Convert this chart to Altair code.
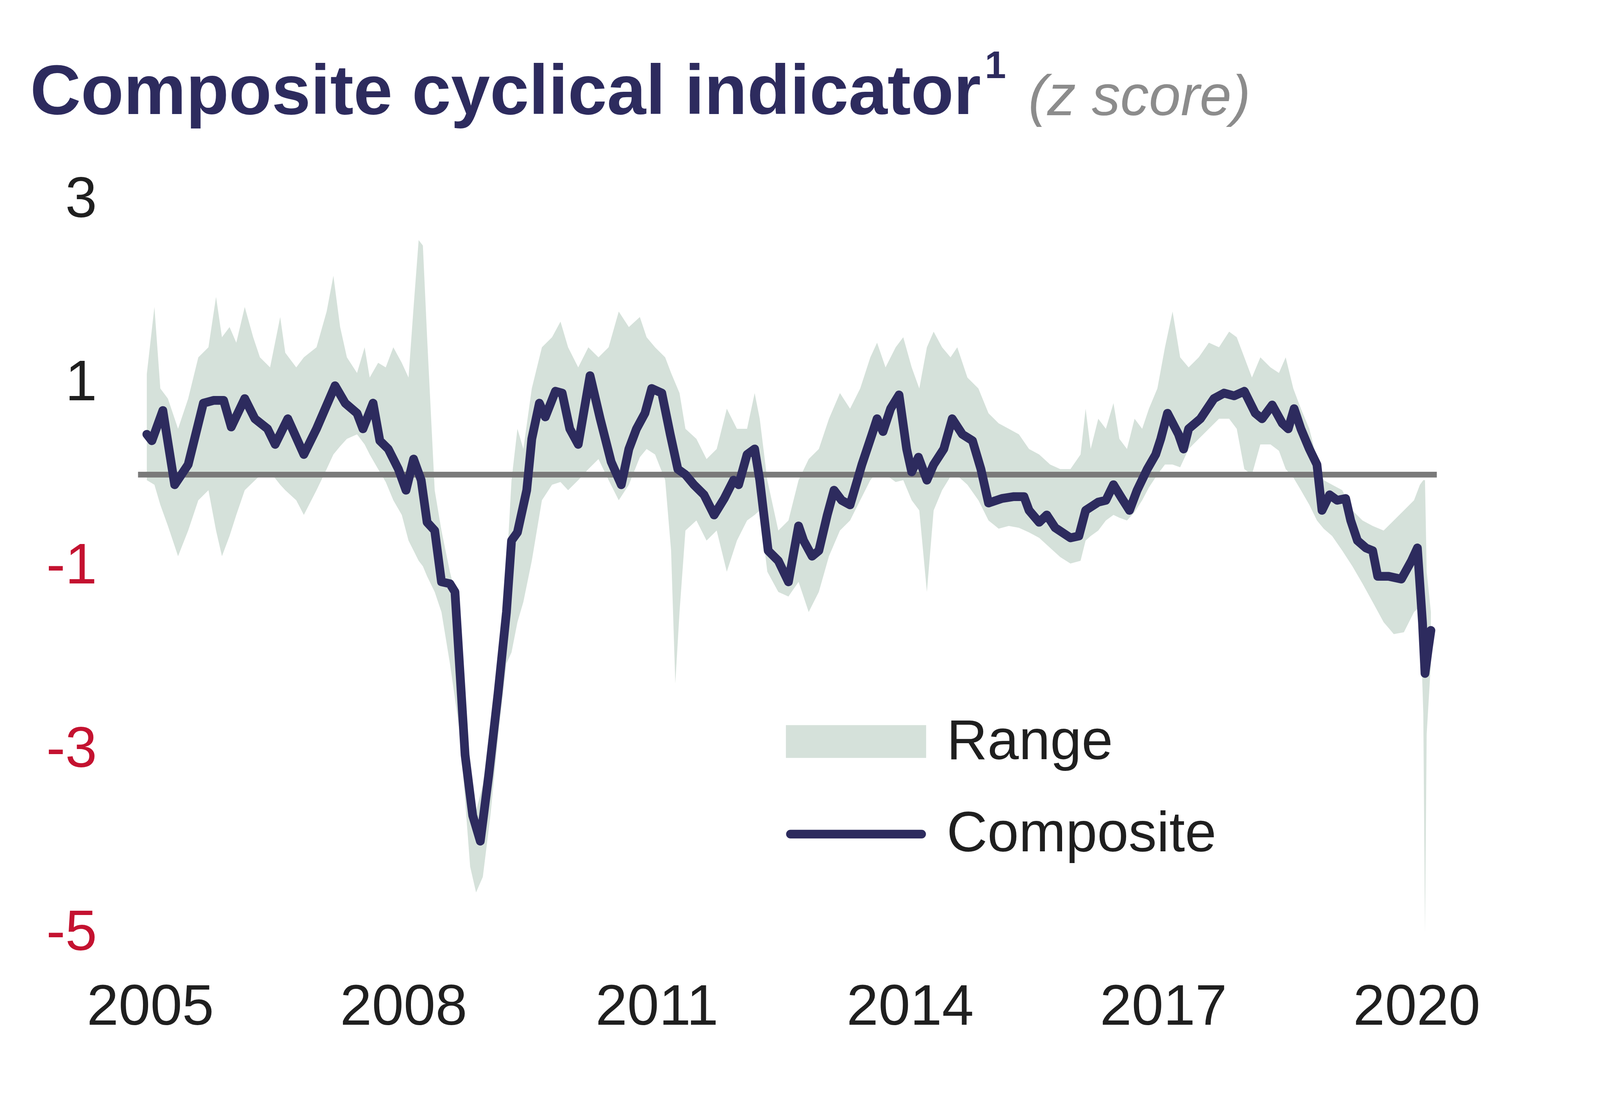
import altair as alt
import pandas as pd

# ---- data ----
comp_year = [2004.96, 2005.02, 2005.15, 2005.29, 2005.45, 2005.63, 2005.75, 2005.87, 2005.96, 2006.12,
             2006.24, 2006.39, 2006.48, 2006.63, 2006.82, 2006.97, 2007.19, 2007.31, 2007.45, 2007.52,
             2007.64, 2007.72, 2007.82, 2007.94, 2008.03, 2008.12, 2008.21, 2008.28, 2008.37, 2008.45,
             2008.55, 2008.61, 2008.67, 2008.73, 2008.82, 2008.91, 2009.01, 2009.12, 2009.22, 2009.28,
             2009.35, 2009.46, 2009.52, 2009.61, 2009.68, 2009.80, 2009.88, 2009.97, 2010.07, 2010.21,
             2010.33, 2010.46, 2010.58, 2010.67, 2010.76, 2010.86, 2010.94, 2011.06, 2011.16, 2011.25,
             2011.34, 2011.44, 2011.56, 2011.68, 2011.80, 2011.91, 2011.97, 2012.07, 2012.16, 2012.22,
             2012.32, 2012.44, 2012.56, 2012.68, 2012.74, 2012.84, 2012.92, 2013.02, 2013.10, 2013.19,
             2013.29, 2013.43, 2013.55, 2013.61, 2013.68, 2013.77, 2013.87, 2013.96, 2014.02, 2014.10,
             2014.20, 2014.28, 2014.40, 2014.50, 2014.62, 2014.74, 2014.84, 2014.93, 2015.09, 2015.23,
             2015.35, 2015.41, 2015.53, 2015.62, 2015.72, 2015.90, 2016.00, 2016.08, 2016.23, 2016.32,
             2016.41, 2016.51, 2016.60, 2016.69, 2016.81, 2016.91, 2016.97, 2017.05, 2017.18, 2017.24,
             2017.30, 2017.44, 2017.60, 2017.72, 2017.84, 2017.96, 2018.09, 2018.17, 2018.29, 2018.41,
             2018.48, 2018.55, 2018.63, 2018.73, 2018.82, 2018.88, 2018.97, 2019.06, 2019.16, 2019.22,
             2019.30, 2019.40, 2019.48, 2019.54, 2019.67, 2019.82, 2019.94, 2020.01, 2020.07, 2020.10,
             2020.14, 2020.17]
comp_value = [0.44, 0.37, 0.70, -0.11, 0.11, 0.78, 0.81, 0.81, 0.52, 0.83,
              0.61, 0.50, 0.33, 0.61, 0.22, 0.50, 0.97, 0.78, 0.67, 0.50,
              0.78, 0.37, 0.28, 0.06, -0.17, 0.17, -0.06, -0.52, -0.61, -1.17,
              -1.19, -1.28, -2.17, -3.06, -3.72, -4.00, -3.28, -2.39, -1.50, -0.72,
              -0.63, -0.17, 0.39, 0.78, 0.63, 0.91, 0.89, 0.50, 0.33, 1.08,
              0.61, 0.14, -0.11, 0.28, 0.50, 0.67, 0.94, 0.89, 0.44, 0.06,
              0.00, -0.11, -0.22, -0.44, -0.26, -0.06, -0.11, 0.22, 0.28, -0.06,
              -0.83, -0.94, -1.17, -0.56, -0.72, -0.89, -0.83, -0.44, -0.17, -0.28,
              -0.33, 0.11, 0.44, 0.61, 0.47, 0.72, 0.87, 0.28, 0.03, 0.19,
              -0.06, 0.11, 0.28, 0.61, 0.44, 0.37, 0.06, -0.31, -0.26, -0.24,
              -0.24, -0.39, -0.52, -0.44, -0.58, -0.69, -0.67, -0.39, -0.30, -0.28,
              -0.11, -0.26, -0.39, -0.17, 0.06, 0.22, 0.39, 0.67, 0.44, 0.28,
              0.50, 0.61, 0.83, 0.89, 0.86, 0.91, 0.67, 0.61, 0.76, 0.56,
              0.50, 0.72, 0.50, 0.28, 0.11, -0.39, -0.22, -0.28, -0.26, -0.50,
              -0.72, -0.80, -0.83, -1.11, -1.11, -1.14, -0.94, -0.80, -1.61, -2.17,
              -1.89, -1.70]

range_year = [2004.96, 2005.05, 2005.12, 2005.21, 2005.33, 2005.45, 2005.57, 2005.69, 2005.78, 2005.85,
              2005.94, 2006.02, 2006.12, 2006.22, 2006.30, 2006.42, 2006.54, 2006.60, 2006.73, 2006.82,
              2006.97, 2007.09, 2007.17, 2007.25, 2007.33, 2007.45, 2007.54, 2007.60, 2007.70, 2007.79,
              2007.88, 2007.98, 2008.06, 2008.12, 2008.18, 2008.23, 2008.28, 2008.37, 2008.45, 2008.55,
              2008.67, 2008.79, 2008.86, 2008.94, 2009.03, 2009.13, 2009.22, 2009.28, 2009.35, 2009.42,
              2009.52, 2009.64, 2009.76, 2009.86, 2009.95, 2010.07, 2010.19, 2010.31, 2010.43, 2010.55,
              2010.67, 2010.80, 2010.88, 2010.98, 2011.10, 2011.17, 2011.22, 2011.27, 2011.34, 2011.47,
              2011.59, 2011.71, 2011.83, 2011.95, 2012.07, 2012.16, 2012.22, 2012.31, 2012.44, 2012.56,
              2012.68, 2012.80, 2012.92, 2013.04, 2013.17, 2013.29, 2013.41, 2013.53, 2013.61, 2013.71,
              2013.83, 2013.92, 2014.02, 2014.11, 2014.20, 2014.28, 2014.38, 2014.48, 2014.56, 2014.68,
              2014.81, 2014.93, 2015.05, 2015.17, 2015.29, 2015.41, 2015.53, 2015.66, 2015.78, 2015.90,
              2016.02, 2016.08, 2016.14, 2016.23, 2016.32, 2016.41, 2016.48, 2016.57, 2016.66, 2016.75,
              2016.83, 2016.93, 2017.02, 2017.11, 2017.20, 2017.30, 2017.42, 2017.54, 2017.66, 2017.78,
              2017.87, 2017.96, 2018.05, 2018.15, 2018.27, 2018.37, 2018.45, 2018.54, 2018.63, 2018.73,
              2018.82, 2018.90, 2019.00, 2019.12, 2019.24, 2019.36, 2019.48, 2019.61, 2019.73, 2019.85,
              2019.97, 2020.04, 2020.08, 2020.10, 2020.12, 2020.17]
range_upper = [1.10, 1.83, 0.94, 0.83, 0.50, 0.83, 1.28, 1.39, 1.94, 1.50,
               1.61, 1.44, 1.83, 1.50, 1.28, 1.17, 1.72, 1.33, 1.17, 1.28,
               1.39, 1.78, 2.17, 1.61, 1.28, 1.11, 1.39, 1.06, 1.22, 1.17,
               1.39, 1.22, 1.06, 1.83, 2.56, 2.50, 1.50, -0.17, -0.61, -1.06,
               -1.50, -3.50, -3.67, -3.39, -2.72, -1.94, -1.06, -0.06, 0.50, 0.28,
               0.94, 1.39, 1.50, 1.67, 1.39, 1.17, 1.39, 1.28, 1.39, 1.78,
               1.61, 1.72, 1.50, 1.39, 1.28, 1.11, 1.00, 0.89, 0.50, 0.39,
               0.17, 0.28, 0.72, 0.50, 0.50, 0.89, 0.61, -0.06, -0.61, -0.50,
               -0.06, 0.17, 0.28, 0.61, 0.89, 0.72, 0.94, 1.28, 1.44, 1.17,
               1.39, 1.50, 1.17, 0.94, 1.39, 1.56, 1.39, 1.28, 1.39, 1.06,
               0.94, 0.67, 0.56, 0.50, 0.44, 0.28, 0.22, 0.11, 0.06, 0.06,
               0.22, 0.72, 0.28, 0.61, 0.50, 0.78, 0.39, 0.28, 0.61, 0.50,
               0.72, 0.94, 1.39, 1.78, 1.28, 1.17, 1.28, 1.44, 1.39, 1.56,
               1.50, 1.28, 1.06, 1.28, 1.17, 1.11, 1.28, 0.94, 0.72, 0.50,
               0.17, -0.06, -0.11, -0.17, -0.39, -0.50, -0.56, -0.61, -0.50, -0.39,
               -0.28, -0.11, -0.06, -0.06, -1.06, -1.50]
range_lower = [-0.06, -0.11, -0.33, -0.56, -0.89, -0.61, -0.28, -0.17, -0.61, -0.89,
               -0.67, -0.44, -0.17, -0.08, -0.01, 0.03, -0.11, -0.17, -0.28, -0.44,
               -0.17, 0.06, 0.22, 0.31, 0.39, 0.44, 0.33, 0.22, 0.06, -0.08,
               -0.28, -0.44, -0.72, -0.83, -0.94, -1.00, -1.11, -1.28, -1.50, -2.06,
               -2.83, -4.28, -4.56, -4.39, -3.72, -2.78, -2.06, -1.94, -1.61, -1.39,
               -0.94, -0.28, -0.11, -0.08, -0.17, -0.06, 0.06, 0.17, -0.06, -0.28,
               -0.11, 0.19, 0.28, 0.22, -0.06, -0.83, -2.28, -1.50, -0.61, -0.50,
               -0.72, -0.61, -1.06, -0.72, -0.50, -0.44, -0.39, -1.06, -1.28, -1.33,
               -1.17, -1.50, -1.28, -0.89, -0.61, -0.50, -0.28, -0.06, 0.03, 0.00,
               -0.08, -0.06, -0.28, -0.39, -1.28, -0.39, -0.17, -0.02, -0.01, -0.11,
               -0.28, -0.50, -0.59, -0.56, -0.58, -0.63, -0.69, -0.80, -0.90, -0.97,
               -0.94, -0.72, -0.67, -0.61, -0.50, -0.44, -0.47, -0.50, -0.41, -0.28,
               -0.14, 0.00, 0.11, 0.11, 0.08, 0.28, 0.39, 0.50, 0.61, 0.61,
               0.50, 0.06, 0.00, 0.33, 0.33, 0.26, 0.06, -0.03, -0.17, -0.33,
               -0.50, -0.59, -0.67, -0.83, -1.00, -1.19, -1.39, -1.61, -1.74, -1.72,
               -1.50, -1.44, -2.61, -5.00, -2.83, -2.06]

x_ticks = [2005, 2008, 2011, 2014, 2017, 2020]
y_ticks = [3, 1, -1, -3, -5]

title_main = "Composite cyclical indicator"
title_sup = "1"
title_unit = "(z score)"
legend_labels = ["Range", "Composite"]

# ---- styling ----
FONT = "Liberation Sans"
NAVY = "#2d2b5e"
BAND = "#d5e1da"
ZERO = "#7a7a7a"
RED = "#c41230"
DARK = "#1f1f1f"

comp_df = pd.DataFrame({"year": comp_year, "value": comp_value})
range_df = pd.DataFrame({"year": range_year, "upper": range_upper, "lower": range_lower})
zero_df = pd.DataFrame({"value": [0]})
one = pd.DataFrame({"k": [0]})

xs = alt.Scale(domain=[2004.856, 2020.24], nice=False, zero=False)
ys = alt.Scale(domain=[-5, 3], nice=False, zero=False)

x_axis = alt.Axis(
    values=x_ticks, labelExpr="'' + datum.value", title=None, grid=False, ticks=False, domain=False,
    labelFontSize=150, labelFont=FONT, labelColor=DARK, labelPadding=122, labelLimit=0,
    labelFlush=False, labelOverlap=False)
y_axis = alt.Axis(
    values=y_ticks, labelExpr="'' + datum.value", title=None, grid=False, ticks=False, domain=False,
    labelFontSize=150, labelFont=FONT, labelPadding=108, labelFlush=False, labelLimit=0,
    labelOverlap=False,
    labelColor={"condition": {"test": "datum.value < 0", "value": RED}, "value": DARK})

band = alt.Chart(range_df).mark_area(color=BAND, opacity=1).encode(
    x=alt.X("year:Q", scale=xs, axis=x_axis, title=None),
    y=alt.Y("upper:Q", scale=ys, axis=y_axis, title=None),
    y2="lower:Q",
)

zero = alt.Chart(zero_df).mark_rule(color=ZERO, strokeWidth=15).encode(
    y=alt.Y("value:Q", scale=ys, axis=y_axis, title=None)
)

line = alt.Chart(comp_df).mark_line(color=NAVY, strokeWidth=23, strokeJoin="round", strokeCap="round").encode(
    x=alt.X("year:Q", scale=xs, axis=x_axis, title=None),
    y=alt.Y("value:Q", scale=ys, axis=y_axis, title=None),
)

# legend (drawn as annotations)
leg_rect = alt.Chart(one).mark_rect(color=BAND).encode(
    x=alt.value(1700), x2=alt.value(2068), y=alt.value(1379), y2=alt.value(1465))
leg_line = alt.Chart(one).mark_rule(color=NAVY, strokeWidth=23, strokeCap="round").encode(
    x=alt.value(1712), x2=alt.value(2056), y=alt.value(1665))
leg_t1 = alt.Chart(one).mark_text(align="left", baseline="middle", font=FONT, fontSize=148, color=DARK).encode(
    x=alt.value(2122), y=alt.value(1424), text=alt.value(legend_labels[0]))
leg_t2 = alt.Chart(one).mark_text(align="left", baseline="middle", font=FONT, fontSize=148, color=DARK).encode(
    x=alt.value(2122), y=alt.value(1666), text=alt.value(legend_labels[1]))

# title pieces
t_main = alt.Chart(one).mark_text(align="left", baseline="alphabetic", font=FONT, fontSize=184,
                                  fontWeight="bold", color=NAVY).encode(
    x=alt.value(-283), y=alt.value(-225), text=alt.value(title_main))
t_sup = alt.Chart(one).mark_text(align="left", baseline="alphabetic", font=FONT, fontSize=100,
                                 fontWeight="bold", color=NAVY).encode(
    x=alt.value(2222), y=alt.value(-319), text=alt.value(title_sup))
t_unit = alt.Chart(one).mark_text(align="left", baseline="alphabetic", font=FONT, fontSize=150,
                                  fontStyle="italic", color="#8c8c8c").encode(
    x=alt.value(2336), y=alt.value(-222), text=alt.value(title_unit))

chart = alt.layer(band, zero, line, leg_rect, leg_line, leg_t1, leg_t2, t_main, t_sup, t_unit).properties(
    width=3408, height=1924,
    autosize=alt.AutoSizeParams(type="none"),
    padding={"left": 354, "top": 481, "right": 420, "bottom": 400},
    background="white",
).configure_view(stroke=None)

chart.save("out.html", embed_options={"renderer": "svg", "actions": False})
